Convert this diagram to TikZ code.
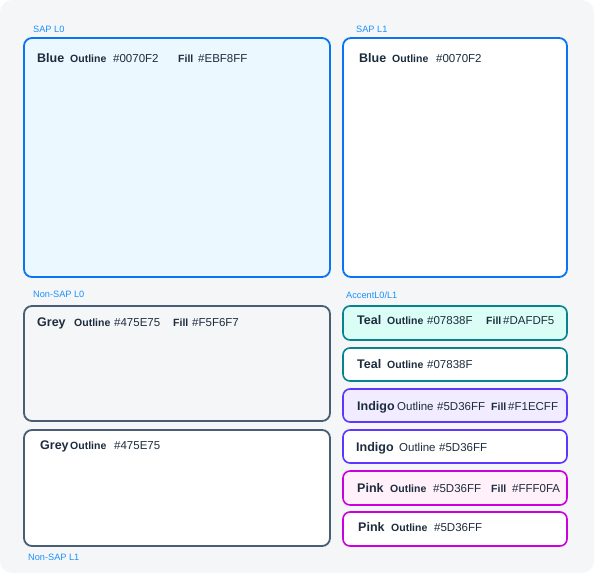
\documentclass[tikz,border=0pt]{standalone}
\usepackage{fontspec}
\setmainfont{Liberation Sans}
\usetikzlibrary{positioning}
\definecolor{ink}{HTML}{1D2D3E}
\definecolor{tagblue}{HTML}{1B90FF}
\definecolor{canvas}{HTML}{F5F6F7}
\definecolor{sapblue}{HTML}{0A74F2}
\definecolor{sapfill}{HTML}{EBF8FF}
\definecolor{greyline}{HTML}{475E75}
\definecolor{greyfill}{HTML}{F5F6F7}
\definecolor{tealline}{HTML}{07838F}
\definecolor{tealfill}{HTML}{DAFDF5}
\definecolor{indigoline}{HTML}{5D36FF}
\definecolor{indigofill}{HTML}{F1ECFF}
\definecolor{pinkline}{HTML}{CC00DC}
\definecolor{pinkfill}{HTML}{FFF0FA}
\newcommand \myswatch[6]
{
\coordinate (#1-nw) at (#2,#3);
\coordinate (#1-se) at (#4,#5);
\draw[#6] (#1-nw) rectangle (#1-se);
}
\begin{document}
\begin{tikzpicture}[x=1pt, y=-1pt, line join=round,
  tone/.style={font=\fontsize{12.5}{12.5}\selectfont\bfseries, text=ink, anchor=base west, inner sep=0pt},
  key/.style={font=\fontsize{10.5}{10.5}\selectfont\bfseries, text=ink, anchor=base west, inner sep=0pt},
  hex/.style={font=\fontsize{11.5}{11.5}\selectfont, text=ink, anchor=base west, inner sep=0pt},
  tag/.style={font=\fontsize{9.2}{9.2}\selectfont, text=tagblue, anchor=base west, inner sep=0pt},
  bigbox/.style={line width=1.8pt, rounded corners=8pt},
  smallbox/.style={line width=1.6pt, rounded corners=7pt}]
\useasboundingbox (0,0) rectangle (600,576);
\fill[canvas, rounded corners=12pt] (0,0) rectangle (594,573);
% swatches
\myswatch{sapzero}{24}{38}{330}{277}{bigbox, draw=sapblue, fill=sapfill}
\myswatch{sapone}{343}{38}{567}{277}{bigbox, draw=sapblue, fill=white}
\myswatch{nonzero}{24}{306}{330}{421}{bigbox, draw=greyline, fill=greyfill}
\myswatch{nonone}{24}{430}{330}{546}{bigbox, draw=greyline, fill=white}
\myswatch{tealA}{343}{306}{567}{340}{smallbox, draw=tealline, fill=tealfill}
\myswatch{tealB}{343}{348}{567}{381}{smallbox, draw=tealline, fill=white}
\myswatch{indigoA}{343}{389}{567}{422}{smallbox, draw=indigoline, fill=indigofill}
\myswatch{indigoB}{343}{430}{567}{463}{smallbox, draw=indigoline, fill=white}
\myswatch{pinkA}{343}{471}{567}{505}{smallbox, draw=pinkline, fill=pinkfill}
\myswatch{pinkB}{343}{512}{567}{546}{smallbox, draw=pinkline, fill=white}
% group tags
\node[tag] (tSapZero) at (33,32)    {SAP L0};
\node[tag] (tSapOne)  at (356,32)   {SAP L1};
\node[tag] (tNonZero) at (33,297)   {Non-SAP L0};
\node[tag] (tAccent)  at (346,298)  {AccentL0/L1};
\node[tag] (tNonOne)  at (28,560)   {Non-SAP L1};
% SAP L0
\node[tone] (b0) at (37,62)  {Blue};
\node[key]  (b0o) at (70,62) {Outline};
\node[hex]  (b0h) at (113,62) {\#0070F2};
\node[key]  (b0f) at (178,62) {Fill};
\node[hex]  (b0g) at (198,62) {\#EBF8FF};
% SAP L1
\node[tone] (b1) at (359,62)  {Blue};
\node[key]  (b1o) at (392,62) {Outline};
\node[hex]  (b1h) at (436,62) {\#0070F2};
% Non-SAP L0
\node[tone] (g0) at (37,326)  {Grey};
\node[key]  (g0o) at (74,326) {Outline};
\node[hex]  (g0h) at (114,326) {\#475E75};
\node[key]  (g0f) at (173,326) {Fill};
\node[hex]  (g0g) at (192,326) {\#F5F6F7};
% Non-SAP L1
\node[tone] (g1) at (40,449)  {Grey};
\node[key]  (g1o) at (70,449) {Outline};
\node[hex]  (g1h) at (114,449) {\#475E75};
% accents
\node[tone] (t0) at (357,324)  {Teal};
\node[key]  (t0o) at (387,324) {Outline};
\node[hex]  (t0h) at (427,324) {\#07838F};
\node[key]  (t0f) at (486,324) {Fill};
\node[hex]  (t0g) at (503,324) {\#DAFDF5};
\node[tone] (t1) at (357,368)  {Teal};
\node[key]  (t1o) at (387,368) {Outline};
\node[hex]  (t1h) at (427,368) {\#07838F};
\node[tone] (i0) at (357,410)  {Indigo};
\node[hex]  (i0o) at (397,410) {Outline};
\node[hex]  (i0h) at (437,410) {\#5D36FF};
\node[key]  (i0f) at (491,410) {Fill};
\node[hex]  (i0g) at (508,410) {\#F1ECFF};
\node[tone] (i1) at (356,451)  {Indigo};
\node[hex]  (i1o) at (399,451) {Outline};
\node[hex]  (i1h) at (439,451) {\#5D36FF};
\node[tone] (p0) at (357,492)  {Pink};
\node[key]  (p0o) at (390,492) {Outline};
\node[hex]  (p0h) at (433,492) {\#5D36FF};
\node[key]  (p0f) at (491,492) {Fill};
\node[hex]  (p0g) at (512,492) {\#FFF0FA};
\node[tone] (p1) at (358,531)  {Pink};
\node[key]  (p1o) at (391,531) {Outline};
\node[hex]  (p1h) at (434,531) {\#5D36FF};
\end{tikzpicture}
\end{document}
